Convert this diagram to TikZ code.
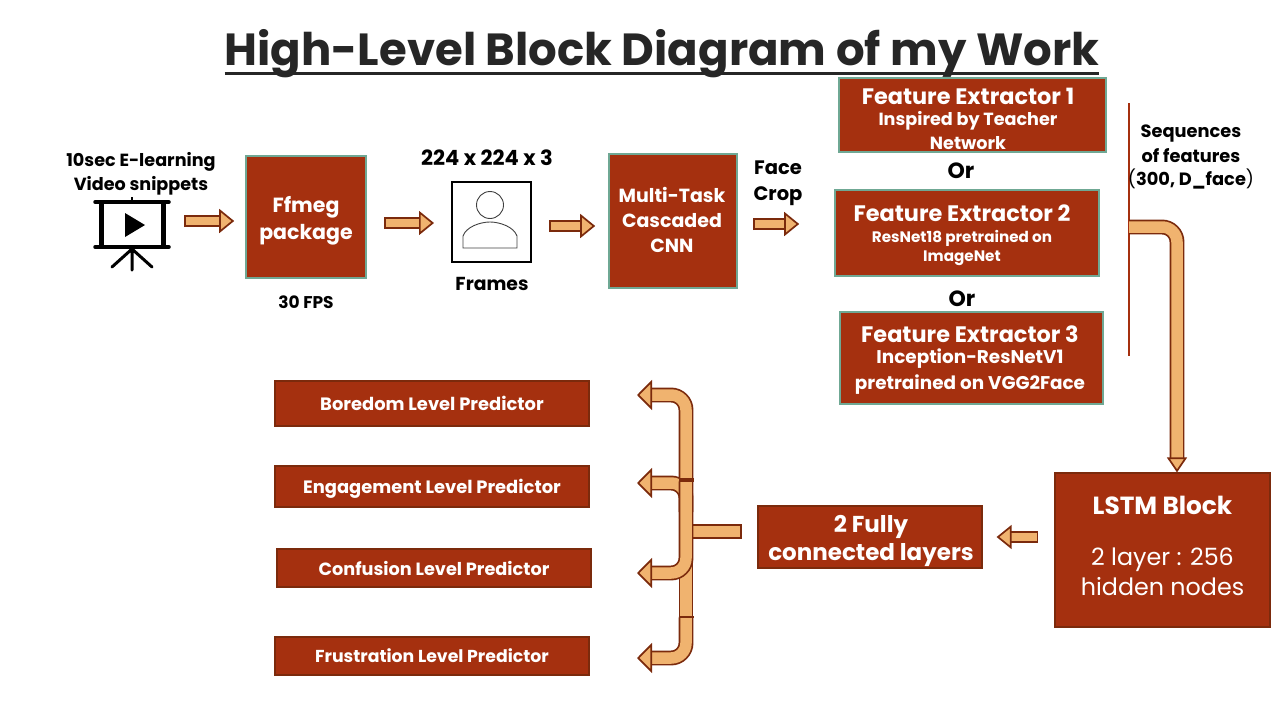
\documentclass[tikz,border=0pt]{standalone}
\usepackage{fontspec}
\setmainfont{Poppins}
\usetikzlibrary{arrows.meta}
\definecolor{boxred}{HTML}{A5300F}
\definecolor{boxteal}{HTML}{6FA894}
\definecolor{pipefill}{HTML}{F0B36F}
\definecolor{pipeline}{HTML}{7B2A0C}
\definecolor{titlegray}{HTML}{262626}
\newcommand{\fsz}[1]{\fontsize{#1}{#1}\selectfont}
\begin{document}
\begin{tikzpicture}[
        x=1pt, y=-1pt,
        every node/.style={inner sep=0pt, align=center},
        tealbox/.style={rectangle, draw=boxteal, line width=1.6pt, fill=boxred},
        redbox/.style={rectangle, draw=pipeline, line width=1.2pt, fill=boxred, text=white, font=\bfseries},
        boxtext/.style={text=white, font=\bfseries},
        caption/.style={text=black, font=\bfseries},
        smallarrow/.style={draw=pipeline, line width=1.7pt, double=pipefill, double distance=8.5pt,
            {Bar[width=12pt,line width=1.7pt]}-{Triangle[length=15pt,width=24pt,fill=pipefill,color=pipeline,line width=1.7pt]}},
        pipearrow/.style={draw=pipeline, line width=1.7pt, double=pipefill, double distance=11.5pt, rounded corners=15pt,
            -{Triangle[length=15pt,width=30pt,fill=pipefill,color=pipeline,line width=1.7pt]}},
        pipebar/.style={{Bar[width=15pt,line width=1.7pt]}-{Triangle[length=15pt,width=30pt,fill=pipefill,color=pipeline,line width=1.7pt]}},
        pipeplain/.style={draw=pipeline, line width=1.7pt, double=pipefill, double distance=11.5pt}
    ]
    \useasboundingbox (0,0) rectangle (1280,720);

    \node[text=titlegray, font=\bfseries\fsz{45}] (title) at (662,54) {High-Level Block Diagram of my Work};
    \draw[titlegray, line width=3pt] (title.west |- 0,73) -- (title.east |- 0,73);

    % top row
    \node[caption] (videoText) at (141,174) {\fsz{17.6}10sec E-learning\\[4pt]\fsz{17.6}Video snippets};
    \node[minimum width=74pt, minimum height=74pt] (videoIcon) at (132,233) {};
    \draw[line width=3.5pt, line cap=round] (95,202) -- (169,202) (95,247) -- (169,247);
    \draw[line width=5pt] (101,202) -- (101,247) (163,202) -- (163,247);
    \draw[line width=2.5pt] (132,197) -- (132,202);
    \fill (125,213) -- (145,225) -- (125,237) -- cycle;
    \draw[line width=3pt, line cap=round] (132,247) -- (132,270) (132,249) -- (112,267) (132,249) -- (152,267);

    \node[tealbox, minimum width=120pt, minimum height=122pt] (ffmeg) at (306,217) {};
    \node[boxtext] (ffmegText) at (306,221) {\fsz{20.5}Ffmeg\\[5pt]\fsz{20.5}package};
    \node[caption] (fpsText) at (306,302) {\fsz{17}30 FPS};

    \node[draw=black, line width=2pt, minimum width=79pt, minimum height=80pt] (frameBox) at (491.5,222) {};
    \draw[black!75, line width=0.9pt] (490,205) circle (13.5);
    \draw[black!75, line width=0.9pt] (463,248) -- (463,236) .. controls (466,227) and (480,222) .. (490,222) .. controls (500,222) and (514,227) .. (517,236) -- (517,248) -- cycle;
    \node[caption] (sizeText) at (487,158) {\fsz{21}224 x 224 x 3};
    \node[caption] (framesText) at (492,284) {\fsz{18.8}Frames};

    \node[tealbox, minimum width=128pt, minimum height=134pt] (mtcnn) at (673,221) {};
    \node[boxtext] (mtcnnText) at (672,220) {\fsz{19}Multi-Task\\[10pt]\fsz{19}Cascaded\\[10pt]\fsz{19}CNN};
    \node[caption] (cropText) at (778,183) {\fsz{19.5}Face\\[11pt]\fsz{19.5}Crop};

    % feature extractors
    \node[tealbox, minimum width=267pt, minimum height=74pt] (extractorOne) at (972.5,115) {};
    \node[boxtext] (extractorOneText) at (968,119) {\fsz{22.4}Feature Extractor 1\\[6pt]\fsz{17.6}Inspired by Teacher\\[5.5pt]\fsz{17.6}Network};
    \node[caption] (orOne) at (961,171) {\fsz{22}Or};
    \node[tealbox, minimum width=264pt, minimum height=86pt] (extractorTwo) at (967,233) {};
    \node[boxtext] (extractorTwoText) at (962,235) {\fsz{22.4}Feature Extractor 2\\[8pt]\fsz{15.2}ResNet18 pretrained on\\[3pt]\fsz{15.2}ImageNet};
    \node[caption] (orTwo) at (962,299) {\fsz{22}Or};
    \node[tealbox, minimum width=263pt, minimum height=92pt] (extractorThree) at (971.5,358) {};
    \node[boxtext] (extractorThreeText) at (970,360) {\fsz{22.4}Feature Extractor 3\\[5.5pt]\fsz{18.4}Inception-ResNetV1\\[5.5pt]\fsz{18.4}pretrained on VGG2Face};

    \coordinate (busTop) at (1129,103);
    \coordinate (busBottom) at (1129,356);
    \draw[boxred, line width=2pt] (busTop) -- (busBottom);
    \node[caption] (seqText) at (1191,157) {\fsz{17.8}Sequences\\[5pt]\fsz{17.8}of features\\[5pt]\fsz{17.8}{\normalfont(}300, D\_face{\normalfont)}};

    % bottom row
    \node[redbox, minimum width=215pt, minimum height=154pt] (lstm) at (1162.5,550) {};
    \node[text=white, font=\bfseries\fsz{24.8}] (lstmTitle) at (1162.5,505) {LSTM Block};
    \node[text=white, font=\fsz{23.8}] (lstmText) at (1162.5,572) {2 layer : 256\\[5pt]hidden nodes};
    \node[redbox, minimum width=224pt, minimum height=62pt] (fcLayers) at (870,537) {};
    \node[boxtext] (fcText) at (871,541) {\fsz{23}2 Fully\\[4.5pt]\fsz{23}connected layers};

    \node[redbox, minimum width=314pt, minimum height=45pt] (boredom) at (432,403.5) {\fsz{17.9}Boredom Level Predictor};
    \node[redbox, minimum width=314pt, minimum height=41pt] (engagement) at (432,486.5) {};
    \node[boxtext] (engagementText) at (432,489) {\fsz{17.9}Engagement Level Predictor};
    \node[redbox, minimum width=314pt, minimum height=38pt] (confusion) at (434,568) {\fsz{17.7}Confusion Level Predictor};
    \node[redbox, minimum width=314pt, minimum height=38pt] (frustration) at (432,656) {\fsz{17.3}Frustration Level Predictor};

    % block arrows of the top row
    \draw[smallarrow, shorten <=15pt, shorten >=11pt] (videoIcon.east |- 0,221) -- (ffmeg.west |- 0,221);
    \draw[smallarrow, shorten <=17pt, shorten >=17pt] (ffmeg.east |- 0,223) -- (frameBox.west |- 0,223);
    \draw[smallarrow, shorten <=17pt, shorten >=13pt] (frameBox.east |- 0,226) -- (mtcnn.west |- 0,226);
    \draw[smallarrow, shorten <=15pt, shorten >=35pt] (mtcnn.east |- 0,224) -- (extractorTwo.west |- 0,224);

    % feature sequence into the lstm block
    \coordinate (seqStart) at (1129,227);
    \coordinate (seqCorner) at (1177,227);
    \draw[pipearrow, -{Triangle[length=15pt,width=20pt,fill=pipefill,color=pipeline,line width=1.7pt]}] (seqStart) -- (seqCorner) -- (seqCorner |- lstm.north);
    \draw[smallarrow, shorten <=16pt, shorten >=14pt] (lstm.west |- 0,537) -- (fcLayers.east |- 0,537);

    % branching to the predictors
    \coordinate (tailEnd) at (742,531.5);
    \coordinate (tailJoin) at (686,531.5);
    \coordinate (branchOne) at (686,480);
    \coordinate (branchTwo) at (686,616);
    \coordinate (tipBoredom) at (637,395);
    \coordinate (tipEngagement) at (637,483);
    \coordinate (tipConfusion) at (637,573);
    \coordinate (tipFrustration) at (637,658);
    \draw[pipeplain, {Bar[width=15pt,line width=1.7pt]}-] (tailEnd) -- (tailJoin);
    \draw[pipearrow] (686,512) -- (686,483) -- (tipEngagement);
    \draw[pipeplain] (686,560) -- (branchTwo);
    \draw[pipearrow, pipebar] (branchTwo) -- (branchTwo |- tipFrustration) -- (tipFrustration);
    \draw[pipearrow, pipebar] (branchOne) -- (branchOne |- tipBoredom) -- (tipBoredom);
    \draw[pipearrow, pipebar] (branchOne) -- (branchOne |- tipConfusion) -- (tipConfusion);
\end{tikzpicture}
\end{document}
